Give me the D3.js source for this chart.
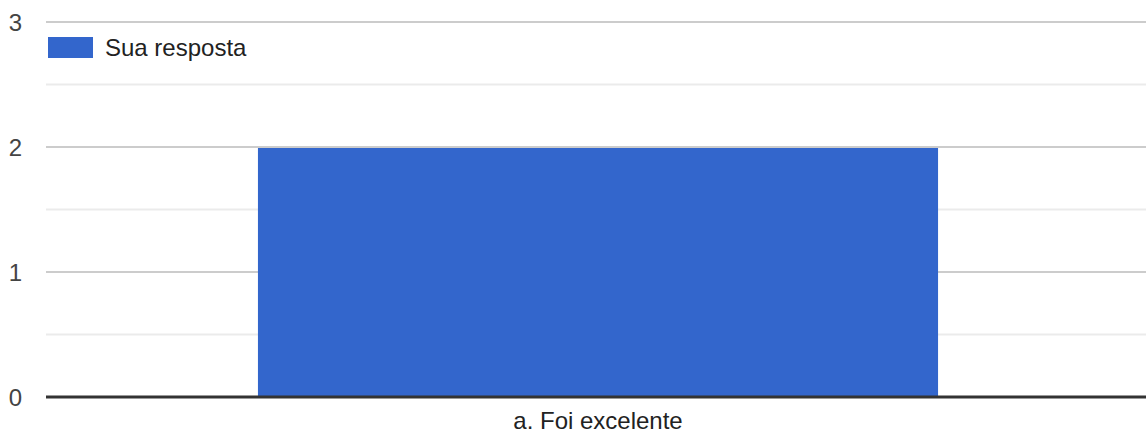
<!DOCTYPE html>
<html><head><meta charset="utf-8">
<script src="https://cdn.jsdelivr.net/npm/d3@7"></script>
<style>body{margin:0;background:#fff}svg{display:block;font-family:"Liberation Sans",Arial,sans-serif}</style>
</head><body><svg id="c" width="1146" height="434"></svg>
<script>
const categories = ["a. Foi excelente"];
const values = [2];
const seriesName = "Sua resposta";
const majorTicks = [0, 1, 2, 3];
const minorTicks = [0.5, 1.5, 2.5];

const svg = d3.select("#c");
const mLeft = 46, mRight = 1150, mTop = 22, mBottom = 397;
const x = d3.scaleBand().domain(categories).range([mLeft, mRight]).paddingInner(0.2376).paddingOuter(0.2376);
const y = d3.scaleLinear().domain([0, 3]).range([mBottom, mTop]);

svg.selectAll("line.minor").data(minorTicks).enter().append("line")
  .attr("x1", mLeft).attr("x2", 1146).attr("y1", d => y(d)).attr("y2", d => y(d))
  .attr("stroke", "#ebebeb").attr("stroke-width", 2);
svg.selectAll("line.major").data(majorTicks.filter(d => d > 0)).enter().append("line")
  .attr("x1", mLeft).attr("x2", 1146).attr("y1", d => y(d)).attr("y2", d => y(d))
  .attr("stroke", "#cccccc").attr("stroke-width", 2);

svg.selectAll("rect.bar").data(values).enter().append("rect")
  .attr("x", (d, i) => x(categories[i])).attr("width", x.bandwidth())
  .attr("y", d => y(d) + 1).attr("height", d => y(0) - y(d) - 1)
  .attr("fill", "#3366cc");

svg.append("line").attr("x1", mLeft).attr("x2", 1146).attr("y1", y(0)).attr("y2", y(0))
  .attr("stroke", "#333333").attr("stroke-width", 3);

svg.selectAll("text.yt").data(majorTicks).enter().append("text")
  .attr("x", 22).attr("y", d => y(d) + 8.5).attr("text-anchor", "end")
  .attr("font-size", 24).attr("fill", "#444").text(d => d);

svg.selectAll("text.xt").data(categories).enter().append("text")
  .attr("x", d => x(d) + x.bandwidth() / 2).attr("y", 428.5).attr("text-anchor", "middle")
  .attr("font-size", 24).attr("fill", "#222").text(d => d);

svg.append("rect").attr("x", 48).attr("y", 37).attr("width", 45).attr("height", 21).attr("fill", "#3366cc");
svg.append("text").attr("x", 105).attr("y", 56).attr("font-size", 24).attr("fill", "#222").text(seriesName);
</script></body></html>
